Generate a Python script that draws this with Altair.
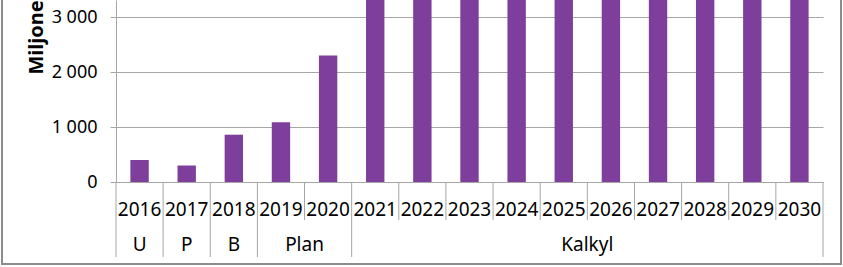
import altair as alt
import pandas as pd

years = ["2016", "2017", "2018", "2019", "2020", "2021", "2022", "2023",
         "2024", "2025", "2026", "2027", "2028", "2029", "2030"]
values = [400, 300, 860, 1085, 2300, 3500, 3500, 3500, 3500, 3500,
          3500, 3500, 3500, 3500, 3500]
groups = ["U", "P", "B", "Plan", "Kalkyl"]
group_years = [["2016"], ["2017"], ["2018"], ["2019", "2020"],
               ["2021", "2022", "2023", "2024", "2025", "2026", "2027",
                "2028", "2029", "2030"]]
y_ticks = [0, 1000, 2000, 3000]

FONT = "Noto Sans"
BAR = "#7E3F9C"
GRID = "#A6A6A6"

df = pd.DataFrame({"year": years, "value": values})

xscale = alt.Scale(domain=years, paddingInner=0, paddingOuter=0)

bars = alt.Chart(df).mark_bar(
    color=BAR, clip=True, width=alt.RelativeBandSize(0.39)
).encode(
    x=alt.X("year:N", scale=xscale, sort=years,
            axis=alt.Axis(title=None, labelAngle=0, ticks=False,
                          domain=True, domainColor=GRID,
                          labelFont=FONT, labelFontSize=19,
                          labelColor="#000000",
                          labelBaseline="alphabetic", labelPadding=33)),
    y=alt.Y("value:Q",
            scale=alt.Scale(domain=[0, 3310], nice=False, zero=True),
            axis=alt.Axis(values=y_ticks, gridColor=GRID, domainColor=GRID,
                          tickColor=GRID, tickSize=6, labelPadding=13,
                          labelFont=FONT, labelFontSize=18,
                          labelColor="#000000",
                          labelExpr="replace(format(datum.value, ','), ',', ' ')",
                          title="Miljoner kronor", titleAngle=270,
                          titleAlign="left", titleBaseline="alphabetic",
                          titleX=-74, titleY=74, titleFont=FONT,
                          titleFontSize=20, titleFontWeight="bold",
                          titleColor="#000000")),
)

# separators between years (short) and between groups (long)
group_starts = [g[0] for g in group_years]
year_sep = pd.DataFrame({"year": [y for y in years if y not in group_starts]})
group_sep = pd.DataFrame({"year": group_starts})
end_sep = pd.DataFrame({"year": [years[-1]]})

sep_short = alt.Chart(year_sep).mark_rule(color=GRID, strokeWidth=1).encode(
    x=alt.X("year:N", bandPosition=0, scale=xscale, sort=years),
    y=alt.value(182), y2=alt.value(220))
sep_long = alt.Chart(group_sep).mark_rule(color=GRID, strokeWidth=1).encode(
    x=alt.X("year:N", bandPosition=0, scale=xscale, sort=years),
    y=alt.value(182), y2=alt.value(257))
sep_end = alt.Chart(end_sep).mark_rule(color=GRID, strokeWidth=1).encode(
    x=alt.X("year:N", bandPosition=1, scale=xscale, sort=years),
    y=alt.value(182), y2=alt.value(257))

# group labels
odd_rows, even_rows = [], []
for g, ys in zip(groups, group_years):
    if len(ys) % 2 == 1:
        odd_rows.append({"label": g, "year": ys[len(ys) // 2]})
    else:
        even_rows.append({"label": g, "year": ys[len(ys) // 2]})

lab_odd = alt.Chart(pd.DataFrame(odd_rows)).mark_text(
    font=FONT, fontSize=19, baseline="alphabetic", align="center",
    color="#000000"
).encode(x=alt.X("year:N", bandPosition=0.5, scale=xscale, sort=years),
         y=alt.value(251), text="label:N")
lab_even = alt.Chart(pd.DataFrame(even_rows)).mark_text(
    font=FONT, fontSize=19, baseline="alphabetic", align="center",
    color="#000000"
).encode(x=alt.X("year:N", bandPosition=0, scale=xscale, sort=years),
         y=alt.value(251), text="label:N")

# outer frame
frame_df = pd.DataFrame({"k": [0]})
frame_left = alt.Chart(frame_df).mark_rule(color="#8C8C8C", strokeWidth=2).encode(
    x=alt.value(-114), y=alt.value(-5), y2=alt.value(264))
frame_bottom = alt.Chart(frame_df).mark_rule(color="#8C8C8C", strokeWidth=2).encode(
    x=alt.value(-115), x2=alt.value(726), y=alt.value(264))
frame_right = alt.Chart(frame_df).mark_rule(color="#8C8C8C", strokeWidth=2).encode(
    x=alt.value(725), y=alt.value(-5), y2=alt.value(264))

chart = alt.layer(
    bars, sep_short, sep_long, sep_end, lab_odd, lab_even,
    frame_left, frame_bottom, frame_right
).properties(
    width=707, height=182,
    autosize=alt.AutoSizeParams(type="none"),
    padding={"left": 116, "top": 0, "right": 20, "bottom": 85},
    background="#FFFFFF",
).configure_view(stroke=None)

chart.save("out.html", embed_options={"renderer": "svg", "actions": False})
